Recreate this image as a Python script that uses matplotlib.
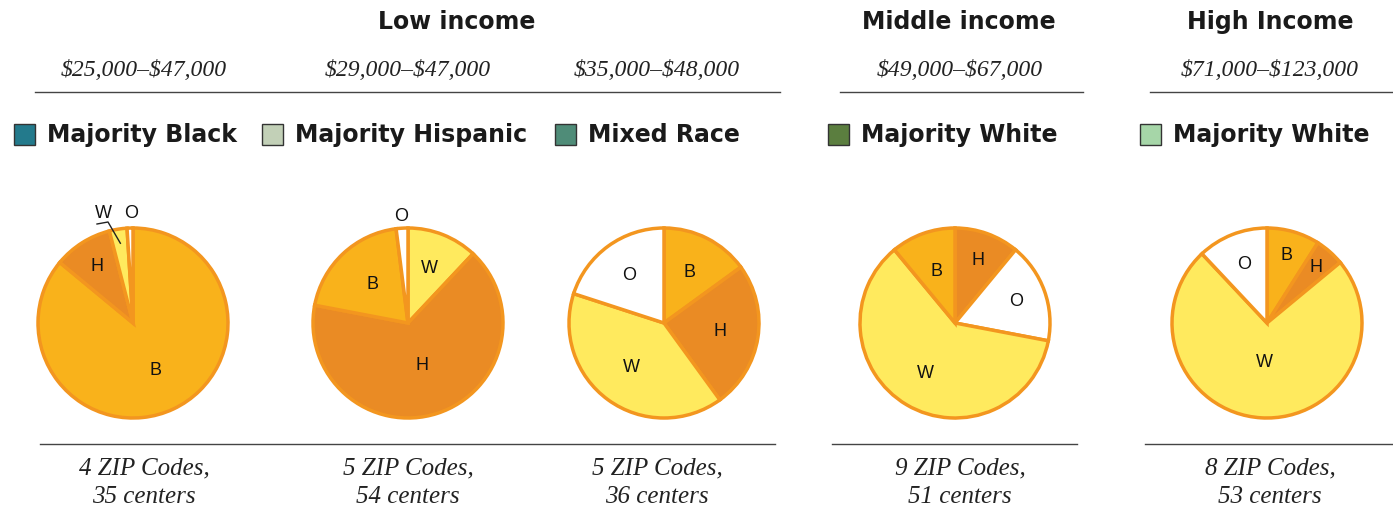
import matplotlib
matplotlib.use("Agg")
import matplotlib.pyplot as plt
import numpy as np
from matplotlib.patches import Rectangle

# data: share of centers by neighbourhood race/ethnicity (percent)
slice_names = ["B", "H", "W", "O"]
pie_values = [
    [86, 10, 3, 1],   # Majority Black
    [20, 66, 12, 2],  # Majority Hispanic
    [15, 25, 40, 20], # Mixed Race
    [11, 11, 61, 17], # Middle income, Majority White
    [9, 5, 74, 12],   # High income, Majority White
]
# clockwise order of slices from 12 o'clock in each pie
pie_orders = [
    ["B", "H", "W", "O"],
    ["W", "H", "B", "O"],
    ["B", "H", "W", "O"],
    ["H", "O", "W", "B"],
    ["B", "H", "W", "O"],
]
group_titles = ["Low income", "Middle income", "High Income"]
income_ranges = ["\\$25,000\u2013\\$47,000", "\\$29,000\u2013\\$47,000", "\\$35,000\u2013\\$48,000",
                 "\\$49,000\u2013\\$67,000", "\\$71,000\u2013\\$123,000"]
legend_labels = ["Majority Black", "Majority Hispanic", "Mixed Race",
                 "Majority White", "Majority White"]
legend_colors = ["#237A8C", "#C2D0B7", "#4F8C78", "#5B7E3F", "#A6D6A8"]
zip_codes = [4, 5, 5, 9, 8]
centers = [35, 54, 36, 51, 53]

slice_colors = {"B": "#F9B21B", "H": "#EA8B24", "W": "#FFEA5E", "O": "#FFFFFF"}
edge = "#F3961F"

W, H = 1393, 508
fig = plt.figure(figsize=(W / 100, H / 100), dpi=100)
ax = fig.add_axes([0, 0, 1, 1])

def Y(py):
    return H - py

pie_x = [133, 408, 664, 955, 1267]
pie_y = 323
radius = 95
label_dist = [[0.55, 0.70, 1.0, 1.0],
              [0.62, 0.47, 0.55, 1.12],
              [0.60, 0.60, 0.58, 0.62],
              [0.70, 0.68, 0.62, 0.58],
              [0.74, 0.78, 0.42, 0.66]]

for i, (vals, order) in enumerate(zip(pie_values, pie_orders)):
    lookup = dict(zip(slice_names, vals))
    v = [lookup[k] for k in order]
    wedges, _ = ax.pie(v, colors=[slice_colors[k] for k in order], startangle=90,
                       counterclock=False, radius=radius, center=(pie_x[i], Y(pie_y)),
                       frame=True,
                       wedgeprops=dict(edgecolor=edge, linewidth=2.5))
    for j, (w, k) in enumerate(zip(wedges, order)):
        th = np.deg2rad((w.theta1 + w.theta2) / 2)
        d = label_dist[i][j]
        tx = pie_x[i] + radius * d * np.cos(th)
        ty = Y(pie_y) + radius * d * np.sin(th)
        if i == 0 and k == "W":
            # leader line for the thin W slice
            px = pie_x[i] + radius * 0.85 * np.cos(th)
            py = Y(pie_y) + radius * 0.85 * np.sin(th)
            ax.plot([97, 108, px], [Y(224), Y(222), py], color="#222222", lw=1)
            tx, ty = 103, Y(213)
        elif i == 0 and k == "O":
            tx, ty = 131, Y(213)
        ax.text(tx, ty, k, ha="center", va="center", fontsize=13,
                family="Liberation Sans", color="#111111")

# group titles
title_x = [457, 959, 1270]
for t, x in zip(group_titles, title_x):
    ax.text(x, Y(22), t, ha="center", va="center", fontsize=17,
            fontweight="bold", family="DejaVu Sans", color="#1a1a1a")

# income ranges
range_x = [144, 408, 657, 960, 1270]
for r, x in zip(income_ranges, range_x):
    ax.text(x, Y(70), r, ha="center", va="center", fontsize=17, style="italic",
            family="Liberation Serif", color="#222222")

# rules
for x0, x1 in [(35, 780), (840, 1083), (1150, 1393)]:
    ax.plot([x0, x1], [Y(92), Y(92)], color="#444444", lw=1)
for x0, x1 in [(40, 775), (832, 1077), (1145, 1393)]:
    ax.plot([x0, x1], [Y(444), Y(444)], color="#444444", lw=1)

# legend boxes
box_x = [14, 262, 555, 828, 1140]
for lab, c, x in zip(legend_labels, legend_colors, box_x):
    ax.add_patch(Rectangle((x, Y(145)), 21, 21, facecolor=c, edgecolor="#333333", lw=1))
    ax.text(x + 33, Y(135), lab, ha="left", va="center", fontsize=17, fontweight="bold",
            family="DejaVu Sans", color="#1a1a1a")

# bottom notes
for z, c, x in zip(zip_codes, centers, range_x):
    ax.text(x, Y(468), f"{z} ZIP Codes,", ha="center", va="center", fontsize=18,
            style="italic", family="Liberation Serif", color="#222222")
    ax.text(x, Y(497), f"{c} centers", ha="center", va="center", fontsize=18,
            style="italic", family="Liberation Serif", color="#222222")

ax.set_xlim(0, W)
ax.set_ylim(0, H)
ax.axis("off")
fig.savefig("out.png", dpi=100)
